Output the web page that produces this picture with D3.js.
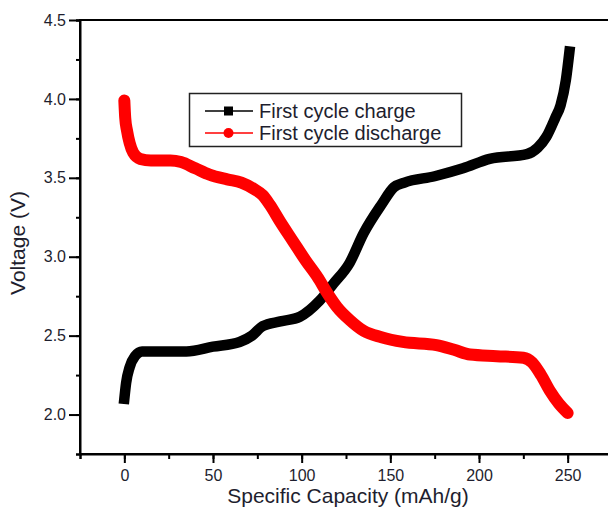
<!DOCTYPE html>
<meta charset="utf-8">
<style>
body { margin: 0; background: #fff; }
svg { display: block; font-family: "Liberation Sans", Arial, sans-serif; }
.axis text { font-size: 16px; fill: #1e1e2e; }
.axis path, .axis line { stroke: #000; stroke-width: 2; }
.title { font-size: 21px; fill: #1e1e2e; }
.legend text { font-size: 20px; fill: #1e1e2e; }
</style>
<svg width="608" height="508"></svg>
<script src="https://d3js.org/d3.v7.min.js"></script>
<script>

// capacity (mAh/g), voltage (V)
var chargeCap = [0, 1, 3, 6, 10, 20, 35, 50, 65, 72, 78, 88, 99, 110, 118, 127, 135, 145, 152, 158, 175, 191, 206, 227, 233, 238, 243, 246, 249, 251];
var chargeV   = [2.10, 2.20, 2.30, 2.37, 2.40, 2.40, 2.40, 2.43, 2.46, 2.50, 2.56, 2.59, 2.62, 2.72, 2.83, 2.96, 3.15, 3.33, 3.44, 3.47, 3.51, 3.56, 3.62, 3.65, 3.69, 3.76, 3.88, 3.96, 4.12, 4.30];

var dischargeCap = [0, 0.5, 1.5, 3, 5, 9, 15, 26, 32, 40, 48, 58, 66, 73, 78, 82, 88, 95, 102, 109, 115, 120, 127, 135, 145, 157, 176, 186, 195, 210, 225, 230, 235, 240, 245, 250];
var dischargeV   = [3.99, 3.88, 3.80, 3.72, 3.66, 3.62, 3.61, 3.61, 3.60, 3.56, 3.52, 3.49, 3.47, 3.43, 3.39, 3.33, 3.22, 3.10, 2.98, 2.87, 2.76, 2.68, 2.60, 2.53, 2.49, 2.46, 2.44, 2.41, 2.38, 2.37, 2.36, 2.33, 2.25, 2.15, 2.07, 2.01];

var xTicks = [0, 50, 100, 150, 200, 250];
var yTicks = [2.0, 2.5, 3.0, 3.5, 4.0, 4.5];
var seriesNames = ["First cycle charge", "First cycle discharge"];

var svg = d3.select("svg");

var x = d3.scaleLinear().domain([-25, 275]).range([80, 612]);
var y = d3.scaleLinear().domain([1.75, 4.5]).range([454, 20]);

// frame
svg.append("rect")
    .attr("x", 80).attr("y", 20)
    .attr("width", 532).attr("height", 434)
    .attr("fill", "none")
    .attr("stroke", "#000")
    .attr("stroke-width", 2);

// minor ticks, then major ticks with labels
var gx = svg.append("g").attr("class", "axis").attr("transform", "translate(0,454)");
gx.call(d3.axisBottom(x).tickValues(d3.range(-25, 276, 25)).tickSize(5).tickFormat(""));
gx.append("g").call(d3.axisBottom(x).tickValues(xTicks).tickSize(9).tickPadding(7).tickFormat(d3.format("d")))
  .select(".domain").remove();

var gy = svg.append("g").attr("class", "axis").attr("transform", "translate(80,0)");
gy.call(d3.axisLeft(y).tickValues(d3.range(1.75, 4.51, 0.25)).tickSize(4).tickFormat(""));
gy.append("g").call(d3.axisLeft(y).tickValues(yTicks).tickSize(11).tickPadding(3).tickFormat(d3.format(".1f")))
  .select(".domain").remove();
svg.selectAll(".axis text").attr("font-family", null);

// axis titles
svg.append("text").attr("class", "title")
    .attr("x", 348).attr("y", 503)
    .attr("text-anchor", "middle")
    .text("Specific Capacity (mAh/g)");

svg.append("text").attr("class", "title")
    .attr("transform", "translate(25,243) rotate(-90)")
    .attr("text-anchor", "middle")
    .text("Voltage (V)");

// curves
var line = d3.line()
    .x(function(d) { return x(d[0]); })
    .y(function(d) { return y(d[1]); })
    .curve(d3.curveMonotoneX);

svg.append("path")
    .datum(chargeCap.map(function(c, i) { return [c, chargeV[i]]; }))
    .attr("fill", "none")
    .attr("stroke", "#000")
    .attr("stroke-width", 10.5)
    .attr("stroke-linejoin", "round")
    .attr("stroke-linecap", "square")
    .attr("d", line);

svg.append("path")
    .datum(dischargeCap.map(function(c, i) { return [c, dischargeV[i]]; }))
    .attr("fill", "none")
    .attr("stroke", "#ff0000")
    .attr("stroke-width", 12)
    .attr("stroke-linejoin", "round")
    .attr("stroke-linecap", "round")
    .attr("d", line);

// legend
var lg = svg.append("g").attr("class", "legend");
lg.append("rect")
    .attr("x", 189.5).attr("y", 93.5)
    .attr("width", 272).attr("height", 53)
    .attr("fill", "#fff")
    .attr("stroke", "#222")
    .attr("stroke-width", 1.5);

var colors = ["#000", "#ff0000"];
seriesNames.forEach(function(name, i) {
  var cy = 111 + i * 22;
  lg.append("line")
      .attr("x1", 205).attr("x2", 253)
      .attr("y1", cy).attr("y2", cy)
      .attr("stroke", colors[i])
      .attr("stroke-width", 1.5);
  if (i === 0) {
    lg.append("rect")
        .attr("x", 224).attr("y", cy - 4.5)
        .attr("width", 9).attr("height", 9)
        .attr("fill", colors[i]);
  } else {
    lg.append("circle")
        .attr("cx", 228.5).attr("cy", cy)
        .attr("r", 5)
        .attr("fill", colors[i]);
  }
  lg.append("text")
      .attr("x", 259).attr("y", cy)
      .attr("dy", "0.36em")
      .text(name);
});

</script>
